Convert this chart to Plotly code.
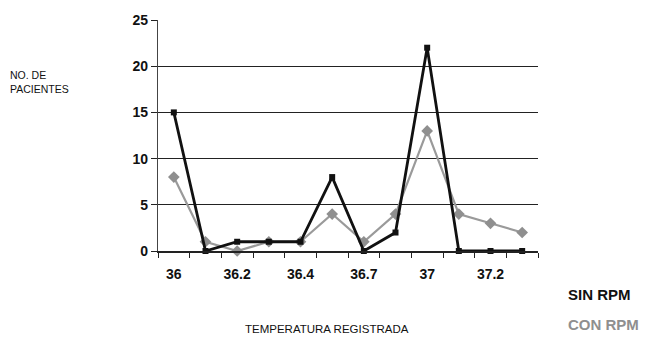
import plotly.graph_objects as go

categories = ["36", "36.1", "36.2", "36.3", "36.4", "36.5", "36.7", "36.8", "37", "37.1", "37.2", "37.3"]
sin_rpm = [15, 0, 1, 1, 1, 8, 0, 2, 22, 0, 0, 0]
con_rpm = [8, 1, 0, 1, 1, 4, 1, 4, 13, 4, 3, 2]
y_ticks = [0, 5, 10, 15, 20, 25]

L, R, T, B = 158, 538, 17, 251
W, H = 651, 342

def px(x):
    return (x - L) / (R - L)

def py(y):
    return (B - y) / (B - T)

fig = go.Figure()
fig.add_trace(go.Scatter(
    x=categories, y=con_rpm, mode="lines+markers", name="CON RPM",
    line=dict(color="#9a9a9a", width=2.2),
    marker=dict(symbol="diamond", size=9, color="#8f8f8f"),
    cliponaxis=False,
))
fig.add_trace(go.Scatter(
    x=categories, y=sin_rpm, mode="lines+markers", name="SIN RPM",
    line=dict(color="#111111", width=2.8),
    marker=dict(symbol="square", size=6, color="#111111"),
    cliponaxis=False,
))

tickfont = dict(family="Liberation Sans, Arial, sans-serif", size=14, color="#111111", weight="bold")

fig.update_layout(
    width=W, height=H,
    margin=dict(l=L, r=W - R, t=T, b=H - B),
    paper_bgcolor="white", plot_bgcolor="white",
    showlegend=False,
    xaxis=dict(
        type="category", categoryorder="array", categoryarray=categories,
        range=[-0.5, len(categories) - 0.5],
        tickson="boundaries", ticks="outside", ticklen=5, tickcolor="#222",
        ticklabelstep=2, tickangle=0, ticklabelstandoff=9, showgrid=False,
        showline=True, linecolor="#222", linewidth=1.5,
        tickfont=tickfont, zeroline=False,
    ),
    yaxis=dict(
        range=[0, 25], tickvals=y_ticks, ticks="outside", ticklen=6, tickcolor="#222",
        showgrid=True, gridcolor="#222", gridwidth=1.2,
        showline=True, linecolor="#444", linewidth=1.2,
        tickfont=tickfont, zeroline=False,
    ),
    annotations=[
        dict(text="NO. DE<br>PACIENTES", x=px(8), y=py(65), xref="paper", yref="paper",
             xanchor="left", yanchor="top", align="left", showarrow=False,
             font=dict(family="Liberation Sans Narrow, Liberation Sans, sans-serif", size=10.5, color="#111")),
        dict(text="TEMPERATURA REGISTRADA", x=px(327), y=py(330), xref="paper", yref="paper",
             xanchor="center", yanchor="middle", showarrow=False,
             font=dict(family="Liberation Sans Narrow, Liberation Sans, sans-serif", size=11.5, color="#111")),
        dict(text="SIN RPM", x=px(566), y=py(295), xref="paper", yref="paper",
             xanchor="left", yanchor="middle", showarrow=False,
             font=dict(family="Liberation Sans, Arial, sans-serif", size=15, color="#111", weight="bold")),
        dict(text="CON RPM", x=px(566), y=py(325), xref="paper", yref="paper",
             xanchor="left", yanchor="middle", showarrow=False,
             font=dict(family="Liberation Sans, Arial, sans-serif", size=15, color="#8f8f8f", weight="bold")),
    ],
)

fig.write_html("out.html")
